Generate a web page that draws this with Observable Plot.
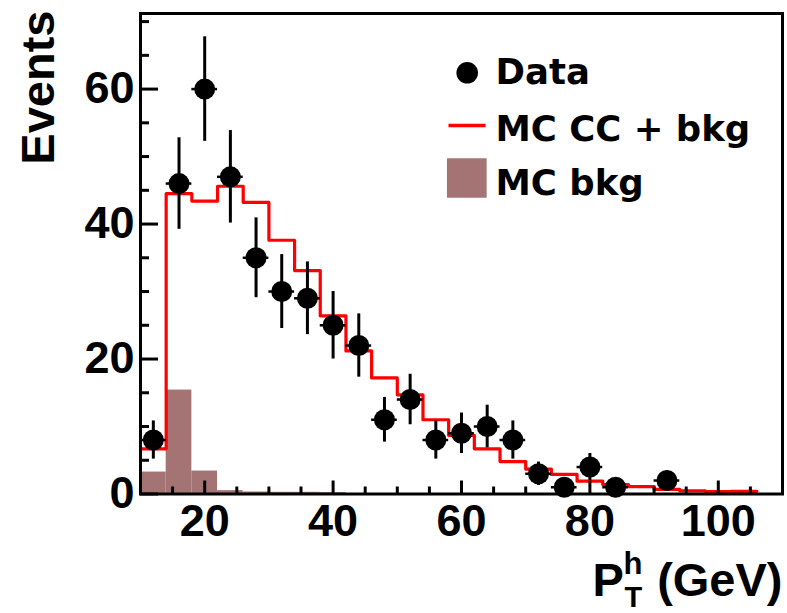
<!DOCTYPE html>
<html><head><meta charset="utf-8">
<script src="https://cdn.jsdelivr.net/npm/d3@7"></script>
<script src="https://cdn.jsdelivr.net/npm/@observablehq/plot@0.6"></script>
<style>body{margin:0;background:#fff}</style>
</head><body><div id="chart"></div>
<script>
// Bins of P_T^h (GeV), lower edges, width 4 GeV
const binLow = [10,14,18,22,26,30,34,38,42,46,50,54,58,62,66,70,74,78,82,86,90,94,98,102];
const binWidth = 4;
// Observed events per bin
const dataCounts = [8,46,60,47,35,30,29,25,22,11,14,8,9,10,8,3,1,4,1,0,2,0,0,0];
// MC CC + bkg expectation
const mcTotal = [6.7,44.5,43.4,45.6,43.2,37.6,33.1,26.4,21.2,17.2,14.7,11.0,8.7,6.7,4.8,3.7,2.9,1.9,1.4,1.1,0.7,0.45,0.35,0.4];
// MC background
const mcBkg = [3.25,15.4,3.4,0.5,0.3,0.25,0.25,0.2,0,0,0,0,0,0,0,0,0,0,0,0,0,0,0,0];
// Axis ticks
const xMajorTicks = [20,40,60,80,100];
const xMinorTicks = [15,25,30,35,45,50,55,65,70,75,85,90,95,105];
const yMajorTicks = [0,20,40,60];
const yMinorTicks = [5,10,15,25,30,35,45,50,55,65,70];
// Legend labels
const legendLabels = ["Data","MC CC + bkg","MC bkg"];

const W = 787, H = 613, mL = 140, mR = 5, mT = 13, mB = 119.5;
const innerW = W - mL - mR, innerH = H - mT - mB;

const bins = binLow.map((lo, i) => ({lo, hi: lo + binWidth, c: lo + binWidth / 2, n: dataCounts[i], mc: mcTotal[i], bkg: mcBkg[i]}));
const points = bins.filter(b => b.n > 0);
const stepPts = bins.flatMap(b => [{x: b.lo, y: b.mc}, {x: b.hi, y: b.mc}]);

const lineSymbol = {draw(ctx, size) { const r = Math.sqrt(size / Math.PI); ctx.moveTo(-r, 0); ctx.lineTo(r, 0); }};
const legendFont = {fontFamily: "'DejaVu Sans', sans-serif", fontWeight: "bold", fontSize: 35.5, textAnchor: "start", lineAnchor: "bottom", frameAnchor: "top-left"};
const bkgColor = "#a47474";

const chart = Plot.plot({
  width: W, height: H,
  marginLeft: mL, marginRight: mR, marginTop: mT, marginBottom: mB,
  x: {domain: [10, 110]},
  y: {domain: [0, 71.2]},
  style: {fontFamily: "'Liberation Sans', Arial, sans-serif", fontWeight: "bold", color: "black", background: "white", overflow: "visible"},
  marks: [
    Plot.rectY(bins.filter(b => b.bkg > 0), {x1: "lo", x2: "hi", y: "bkg", fill: bkgColor}),
    Plot.line(stepPts, {x: "x", y: "y", stroke: "#ff0000", strokeWidth: 3.2}),
    Plot.frame({stroke: "black", strokeWidth: 3}),
    Plot.tickY(yMajorTicks, {y: d => d, insetRight: innerW - 18, strokeWidth: 3}),
    Plot.tickY(yMinorTicks, {y: d => d, insetRight: innerW - 9, strokeWidth: 3}),
    Plot.tickX(xMajorTicks, {x: d => d, insetTop: innerH - 13, strokeWidth: 3}),
    Plot.tickX(xMinorTicks, {x: d => d, insetTop: innerH - 7, strokeWidth: 3}),
    Plot.axisY(yMajorTicks, {tickSize: 0, tickPadding: 6, fontSize: 45, fontWeight: "bold", label: null}),
    Plot.axisX(xMajorTicks, {tickSize: 0, tickPadding: 10, fontSize: 45, fontWeight: "bold", label: null}),
    Plot.ruleX(points, {x: "c", y1: d => d.n - Math.sqrt(d.n), y2: d => d.n + Math.sqrt(d.n), strokeWidth: 3}),
    Plot.ruleY(points, {y: "n", x1: "lo", x2: "hi", strokeWidth: 2.5}),
    Plot.dot(points, {x: "c", y: "n", r: 10.5, fill: "black"}),
    // axis titles
    Plot.text(["Events"], {frameAnchor: "top-left", rotate: -90, textAnchor: "end", lineAnchor: "bottom", dx: -87, dy: -3, fontSize: 47, fontWeight: "bold"}),
    Plot.text(["P"], {frameAnchor: "bottom-right", textAnchor: "start", lineAnchor: "bottom", dx: -190, dy: 101.5, fontSize: 47, fontWeight: "bold"}),
    Plot.text(["h"], {frameAnchor: "bottom-right", textAnchor: "start", lineAnchor: "bottom", dx: -159, dy: 80, fontSize: 31, fontWeight: "bold"}),
    Plot.text(["T"], {frameAnchor: "bottom-right", textAnchor: "start", lineAnchor: "bottom", dx: -158, dy: 112.5, fontSize: 29, fontWeight: "bold"}),
    Plot.text(["(GeV)"], {frameAnchor: "bottom-right", textAnchor: "end", lineAnchor: "bottom", dx: 0, dy: 101.5, fontSize: 47, fontWeight: "bold"}),
    // legend
    Plot.dot([legendLabels[0]], {frameAnchor: "top-left", dx: 326.7, dy: 59.3, r: 10.8, fill: "black"}),
    Plot.dot([legendLabels[1]], {frameAnchor: "top-left", dx: 326.5, dy: 112, r: 18.5, symbol: lineSymbol, stroke: "#ff0000", fill: "none", strokeWidth: 3.5}),
    Plot.dot([legendLabels[2]], {frameAnchor: "top-left", dx: 326.3, dy: 164.5, r: 22.4, symbol: "square", fill: bkgColor}),
    Plot.text([legendLabels[0]], {...legendFont, dx: 355, dy: 70}),
    Plot.text([legendLabels[1]], {...legendFont, dx: 355, dy: 127}),
    Plot.text([legendLabels[2]], {...legendFont, dx: 355, dy: 181})
  ]
});
document.getElementById("chart").appendChild(chart);
</script>
</body></html>
